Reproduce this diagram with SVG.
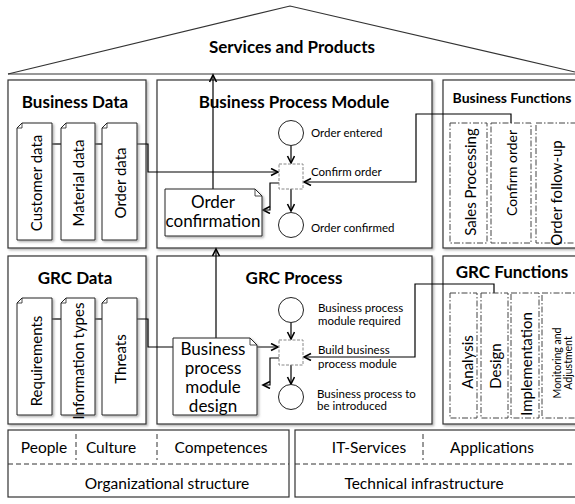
<svg xmlns="http://www.w3.org/2000/svg" width="575" height="504" viewBox="0 0 575 504">
<defs>
<filter id="sh" x="-10%" y="-10%" width="130%" height="130%">
<feDropShadow dx="1.5" dy="1.5" stdDeviation="0.8" flood-color="#777" flood-opacity="0.6"/>
</filter>
<marker id="ah" markerWidth="10" markerHeight="10" refX="8" refY="4" orient="auto" markerUnits="userSpaceOnUse">
<path d="M1,0.5 L8,4 L1,7.5" fill="none" stroke="#000" stroke-width="1.6"/>
</marker>
</defs>
<style>
text{font-family:Lato,"Open Sans","Liberation Sans",sans-serif;fill:#000}
.box{fill:#fff;stroke:#333;stroke-width:1.2}
.doc{fill:#fff;stroke:#222;stroke-width:1}
.fn{fill:#fff;stroke:#444;stroke-width:1;stroke-dasharray:6 2 1.5 2}
.sq{fill:#fff;stroke:#888;stroke-width:1;stroke-dasharray:3 1.5}
.ev{fill:#fff;stroke:#222;stroke-width:1}
.ttl{font-weight:bold;font-size:17px;text-anchor:middle}
.lbl{font-size:11.5px}
.rot{font-size:15px;text-anchor:middle;dominant-baseline:central}
.big{font-size:17px;text-anchor:middle}
.bot{font-size:15.5px;text-anchor:middle}
.con{fill:none;stroke:#000;stroke-width:1.2}
.sep{fill:none;stroke:#333;stroke-width:1;stroke-dasharray:5 3}
</style>
<rect width="575" height="504" fill="#fff"/>

<g id="roof">
<path d="M8,74 L290,6 L575,72" fill="#fff" stroke="#333" stroke-width="1.2"/>
<line x1="8" y1="74" x2="575" y2="74" stroke="#333" stroke-width="1.2"/>
<text x="292" y="53" class="ttl">Services and Products</text>
</g>

<g id="business-data">
<rect class="box" x="8" y="80" width="138" height="168" filter="url(#sh)"/>
<text x="75" y="108" class="ttl">Business Data</text>
</g>

<g id="business-process-module">
<rect class="box" x="157" y="80" width="275" height="168" filter="url(#sh)"/>
<text x="294" y="108" class="ttl">Business Process Module</text>
</g>

<g id="business-functions">
<rect class="box" x="443" y="80" width="140" height="168" filter="url(#sh)"/>
<text x="512" y="103" class="ttl" style="font-size:14px">Business Functions</text>
</g>

<g id="grc-data">
<rect class="box" x="8" y="256" width="138" height="168" filter="url(#sh)"/>
<text x="75" y="284" class="ttl">GRC Data</text>
</g>

<g id="grc-process">
<rect class="box" x="157" y="256" width="275" height="168" filter="url(#sh)"/>
<text x="294" y="284" class="ttl">GRC Process</text>
</g>

<g id="grc-functions">
<rect class="box" x="443" y="256" width="140" height="168" filter="url(#sh)"/>
<text x="512" y="278" class="ttl">GRC Functions</text>
</g>

<g id="connectors">
<line class="con" x1="52" y1="144" x2="61" y2="144"/>
<line class="con" x1="95" y1="144" x2="102" y2="144"/>
<path class="con" d="M137,144 H148 V172 H278" marker-end="url(#ah)"/>
<line class="con" x1="52" y1="319" x2="61" y2="319"/>
<line class="con" x1="95" y1="319" x2="102" y2="319"/>
<path class="con" d="M137,319 H148 V347 H278" marker-end="url(#ah)"/>
<path class="con" d="M291,146 V163" marker-end="url(#ah)"/>
<path class="con" d="M291,189 V211" marker-end="url(#ah)"/>
<path class="con" d="M279,183 H270 V210 H263" marker-end="url(#ah)"/>
<path class="con" d="M511,123 V114 H416 V182 H304" marker-end="url(#ah)"/>
<path class="con" d="M213,189 V75" marker-end="url(#ah)"/>
<path class="con" d="M291,323 V339" marker-end="url(#ah)"/>
<path class="con" d="M291,365 V384" marker-end="url(#ah)"/>
<path class="con" d="M279,358 H270 V385 H263" marker-end="url(#ah)"/>
<path class="con" d="M494,293 V284 H415 V357 H304" marker-end="url(#ah)"/>
<path class="con" d="M216,338 V249" marker-end="url(#ah)"/>
</g>

<g id="customer-data">
<path class="doc" d="M22,123 H52 V240 H17 V128 Z" filter="url(#sh)"/>
<path d="M22,123 V128 H17" fill="none" stroke="#222" stroke-width="0.8"/>
<text class="rot" transform="translate(36,183) rotate(-90)">Customer data</text>
</g>
<g id="material-data">
<path class="doc" d="M66,123 H95 V240 H61 V128 Z" filter="url(#sh)"/>
<path d="M66,123 V128 H61" fill="none" stroke="#222" stroke-width="0.8"/>
<text class="rot" transform="translate(78,183) rotate(-90)">Material data</text>
</g>
<g id="order-data">
<path class="doc" d="M107,123 H137 V240 H102 V128 Z" filter="url(#sh)"/>
<path d="M107,123 V128 H102" fill="none" stroke="#222" stroke-width="0.8"/>
<text class="rot" transform="translate(120,183) rotate(-90)">Order data</text>
</g>

<g id="requirements">
<path class="doc" d="M22,298 H52 V415 H17 V303 Z" filter="url(#sh)"/>
<path d="M22,298 V303 H17" fill="none" stroke="#222" stroke-width="0.8"/>
<text class="rot" transform="translate(36,361) rotate(-90)">Requirements</text>
</g>
<g id="information-types">
<path class="doc" d="M66,298 H95 V415 H61 V303 Z" filter="url(#sh)"/>
<path d="M66,298 V303 H61" fill="none" stroke="#222" stroke-width="0.8"/>
<text class="rot" transform="translate(78,361) rotate(-90)">Information types</text>
</g>
<g id="threats">
<path class="doc" d="M107,298 H137 V415 H102 V303 Z" filter="url(#sh)"/>
<path d="M107,298 V303 H102" fill="none" stroke="#222" stroke-width="0.8"/>
<text class="rot" transform="translate(120,359) rotate(-90)">Threats</text>
</g>

<g id="order-entered">
<circle class="ev" cx="291" cy="133" r="12.5"/>
<text x="311" y="137" class="lbl">Order entered</text>
</g>
<g id="confirm-order-task">
<rect class="sq" x="279" y="164" width="24" height="25"/>
<text x="311" y="176" class="lbl">Confirm order</text>
</g>
<g id="order-confirmed">
<circle class="ev" cx="291" cy="225" r="12.5"/>
<text x="311" y="232" class="lbl">Order confirmed</text>
</g>
<g id="order-confirmation">
<path class="doc" d="M165,189 H255 L262,196 V236 H165 Z" filter="url(#sh)"/>
<path d="M255,189 V196 H262" fill="none" stroke="#222" stroke-width="0.8"/>
<text x="213" y="208" class="big">Order</text>
<text x="213" y="227" class="big">confirmation</text>
</g>

<g id="bpm-required">
<circle class="ev" cx="291" cy="310" r="12.5"/>
<text x="318" y="312" class="lbl">Business process</text>
<text x="318" y="325" class="lbl">module required</text>
</g>
<g id="build-bpm-task">
<rect class="sq" x="279" y="340" width="24" height="25"/>
<text x="318" y="354" class="lbl">Build business</text>
<text x="318" y="368" class="lbl">process module</text>
</g>
<g id="bp-introduced">
<circle class="ev" cx="291" cy="397" r="12.5"/>
<text x="317" y="398" class="lbl">Business process to</text>
<text x="317" y="410" class="lbl">be introduced</text>
</g>
<g id="bpm-design">
<path class="doc" d="M173,338 H250 L257,345 V415 H173 Z" filter="url(#sh)"/>
<path d="M250,338 V345 H257" fill="none" stroke="#222" stroke-width="0.8"/>
<text x="213" y="355" class="big">Business</text>
<text x="213" y="374" class="big">process</text>
<text x="213" y="393" class="big">module</text>
<text x="213" y="412" class="big">design</text>
</g>

<g id="sales-processing">
<rect class="fn" x="450" y="123" width="37" height="120"/>
<text class="rot" transform="translate(470,182) rotate(-90)">Sales Processing</text>
</g>
<g id="confirm-order-fn">
<rect class="fn" x="491" y="123" width="40" height="120"/>
<text class="rot" style="font-size:14px" transform="translate(511,173) rotate(-90)">Confirm order</text>
</g>
<g id="order-follow-up">
<rect class="fn" x="536" y="123" width="45" height="120"/>
<text class="rot" transform="translate(556,193) rotate(-90)">Order follow-up</text>
</g>

<g id="analysis">
<rect class="fn" x="450" y="293" width="27" height="125"/>
<text class="rot" transform="translate(467,362) rotate(-90)">Analysis</text>
</g>
<g id="design">
<rect class="fn" x="481" y="293" width="27" height="125"/>
<text class="rot" transform="translate(495,366) rotate(-90)">Design</text>
</g>
<g id="implementation">
<rect class="fn" x="511" y="293" width="28" height="125"/>
<text class="rot" transform="translate(526,364) rotate(-90)">Implementation</text>
</g>
<g id="monitoring">
<rect class="fn" x="542" y="293" width="40" height="125"/>
<text class="rot" style="font-size:10.5px" transform="translate(557,363) rotate(-90)">Monitoring and</text>
<text class="rot" style="font-size:10.5px" transform="translate(568,363) rotate(-90)">Adjustment</text>
</g>

<g id="organizational-structure">
<rect class="box" x="8" y="430" width="281" height="67"/>
<line class="sep" x1="8" y1="464" x2="289" y2="464"/>
<line class="sep" x1="76" y1="434" x2="76" y2="460"/>
<line class="sep" x1="157" y1="434" x2="157" y2="460"/>
<text x="44" y="453" class="bot">People</text>
<text x="111" y="453" class="bot">Culture</text>
<text x="221" y="453" class="bot">Competences</text>
<text x="167" y="489" class="bot">Organizational structure</text>
</g>
<g id="technical-infrastructure">
<rect class="box" x="295" y="430" width="290" height="67"/>
<line class="sep" x1="295" y1="464" x2="575" y2="464"/>
<line class="sep" x1="423" y1="434" x2="423" y2="460"/>
<text x="369" y="453" class="bot">IT-Services</text>
<text x="492" y="453" class="bot">Applications</text>
<text x="424" y="489" class="bot">Technical infrastructure</text>
</g>
</svg>
